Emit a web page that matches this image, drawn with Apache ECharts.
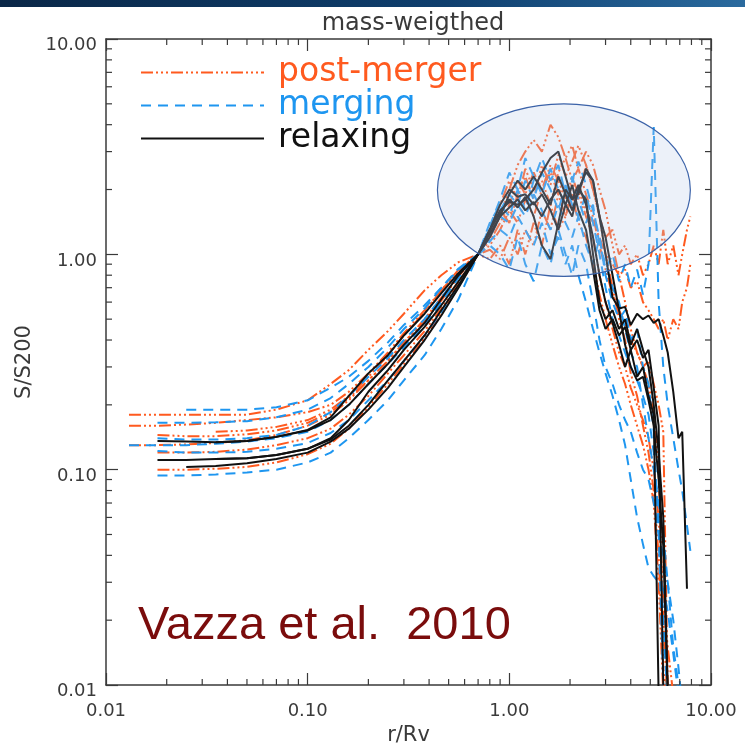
<!DOCTYPE html>
<html>
<head>
<meta charset="utf-8">
<script src="https://cdn.jsdelivr.net/npm/echarts@6/dist/echarts.min.js"></script>
<style>
html,body{margin:0;padding:0;background:#fff;}
#chart{width:745px;height:744px;}
</style>
</head>
<body>
<div id="chart"></div>
<script>
// ---------------- DATA ----------------
const radii = [0.013, 0.018, 0.025, 0.035, 0.05, 0.07, 0.1, 0.13, 0.16, 0.2, 0.25, 0.3, 0.38, 0.46, 0.56,
  0.7, 0.8, 0.9, 1.0, 1.1, 1.2, 1.32, 1.45, 1.6, 1.75, 1.9, 2.05, 2.2, 2.4, 2.6, 2.8, 3.0, 3.25, 3.5, 3.75,
  4.0, 4.3, 4.6, 4.9, 5.2, 5.5, 5.8, 6.1, 6.5, 6.9, 7.2, 7.6, 7.9];

const xTickLabels = ['0.01', '0.10', '1.00', '10.00'];
const yTickLabels = ['0.01', '0.10', '1.00', '10.00'];
const minorTickValues = [0.02, 0.03, 0.04, 0.05, 0.06, 0.07, 0.08, 0.09,
  0.2, 0.3, 0.4, 0.5, 0.6, 0.7, 0.8, 0.9, 2, 3, 4, 5, 6, 7, 8, 9];

// post-merger (orange, dash-dot-dot-dot)
const postMerger1 = [0.18, 0.18, 0.18, 0.18, 0.18, 0.19, 0.21, 0.25, 0.29, 0.36, 0.44, 0.53, 0.68, 0.8, 0.92,
  1.0, 1.2, 1.5, 2.0, 2.6, 3.0, 3.4, 3.0, 4.0, 3.5, 2.8, 3.2, 2.5, 3.0, 2.6, 2.0, 1.6, 1.1, 0.8, 0.6,
  0.45, 0.35, 0.3, 0.25, 0.18, 0.1, 0.02, 0.008, null, null, null, null, null];
const postMerger2 = [0.16, 0.16, 0.162, 0.165, 0.17, 0.175, 0.185, 0.2, 0.23, 0.28, 0.35, 0.43, 0.55, 0.68, 0.84,
  1.0, 1.05, 0.95, 1.2, 1.0, 1.3, 1.1, 1.6, 1.3, 1.9, 1.5, 2.2, 1.8, 2.6, 2.0, 1.5, 1.2, 1.3, 1.0, 1.1,
  0.9, 1.0, 0.8, 0.9, 1.1, 0.9, 1.3, 0.9, 1.1, 0.8, 1.0, 1.3, 1.5];
const postMerger3 = [0.13, 0.13, 0.131, 0.133, 0.137, 0.145, 0.16, 0.18, 0.21, 0.26, 0.32, 0.39, 0.5, 0.63, 0.8,
  1.0, 1.25, 1.6, 1.4, 1.9, 2.3, 1.8, 2.6, 2.1, 2.9, 2.3, 2.7, 3.2, 2.6, 2.0, 1.5, 1.0, 0.7, 0.5, 0.4,
  0.28, 0.22, 0.16, 0.12, 0.08, 0.04, 0.012, 0.007, null, null, null, null, null];
const postMerger4 = [null, 0.12, 0.12, 0.121, 0.124, 0.13, 0.14, 0.155, 0.18, 0.22, 0.28, 0.34, 0.44, 0.56, 0.74,
  1.0, 0.95, 1.1, 0.9, 1.3, 1.0, 1.4, 1.1, 1.7, 1.3, 1.5, 1.9, 1.4, 1.2, 0.9, 0.65, 0.5, 0.38, 0.3, 0.25,
  0.2, 0.16, 0.13, 0.1, 0.07, 0.03, 0.009, null, null, null, null, null, null];
const postMerger5 = [null, 0.1, 0.1, 0.101, 0.103, 0.108, 0.118, 0.132, 0.155, 0.195, 0.25, 0.31, 0.41, 0.53, 0.71,
  1.0, 1.3, 1.7, 2.2, 1.8, 2.5, 2.0, 2.2, 1.7, 2.4, 2.8, 2.2, 2.5, 1.9, 1.5, 1.1, 0.85, 0.65, 0.55, 0.48,
  0.4, 0.35, 0.3, 0.32, 0.25, 0.2, 0.15, 0.01, null, null, null, null, null];
const postMerger6 = [null, null, null, 0.15, 0.152, 0.158, 0.17, 0.19, 0.22, 0.27, 0.34, 0.42, 0.54, 0.68, 0.85,
  1.0, 1.1, 1.3, 1.6, 1.4, 1.8, 1.5, 2.0, 2.4, 1.9, 2.1, 1.6, 2.0, 1.6, 1.4, 1.2, 1.0, 0.9, 0.8, 0.85,
  0.7, 0.75, 0.6, 0.55, 0.5, 0.45, 0.5, 0.4, 0.5, 0.45, 0.6, 0.7, 0.9];
const postMerger7 = [null, 0.145, 0.143, 0.143, 0.146, 0.152, 0.165, 0.185, 0.215, 0.26, 0.32, 0.39, 0.49, 0.61, 0.79,
  1.0, 1.15, 1.4, 1.7, 2.2, 1.9, 2.4, 2.0, 2.6, 2.2, 1.8, 2.3, 1.9, 1.5, 1.2, 0.8, 0.6, 0.45, 0.35, 0.3,
  0.24, 0.2, 0.17, 0.14, 0.1, 0.06, 0.025, 0.015, 0.009, null, null, null, null];

// merging (blue, dashed)
const merging1 = [0.13, 0.13, 0.13, 0.132, 0.135, 0.14, 0.15, 0.17, 0.2, 0.25, 0.31, 0.37, 0.47, 0.6, 0.78,
  1.0, 1.3, 1.6, 1.9, 1.7, 2.2, 1.8, 2.4, 2.0, 1.6, 2.1, 1.7, 1.5, 1.9, 1.4, 1.0, 0.7, 0.5, 0.42, 0.35,
  0.3, 0.26, 0.22, 0.18, 0.12, 0.06, 0.02, 0.008, null, null, null, null, null];
const merging2 = [null, null, 0.19, 0.19, 0.19, 0.195, 0.21, 0.24, 0.27, 0.32, 0.39, 0.47, 0.58, 0.7, 0.85,
  1.0, 1.2, 1.5, 1.4, 1.7, 1.5, 1.9, 1.6, 1.3, 1.7, 1.4, 1.2, 1.5, 1.1, 0.9, 1.2, 0.85, 1.0, 0.75, 0.9,
  0.7, 0.85, 0.65, 0.9, 3.9, 0.6, 0.3, 0.2, 0.14, 0.1, 0.08, 0.055, 0.042];
const merging3 = [null, 0.094, 0.094, 0.095, 0.097, 0.1, 0.108, 0.12, 0.14, 0.17, 0.21, 0.26, 0.34, 0.45, 0.62,
  1.0, 1.15, 1.3, 1.2, 1.5, 1.3, 1.1, 1.4, 1.0, 1.2, 0.9, 1.1, 0.8, 0.6, 0.45, 0.35, 0.28, 0.22, 0.17, 0.13,
  0.09, 0.06, 0.045, 0.035, 0.032, 0.03, 0.028, 0.022, 0.014, 0.009, null, null, null];
const merging4 = [null, 0.14, 0.138, 0.138, 0.14, 0.145, 0.16, 0.185, 0.22, 0.27, 0.33, 0.4, 0.5, 0.63, 0.8,
  1.0, 1.35, 1.8, 2.4, 2.0, 2.8, 2.3, 1.9, 2.5, 2.0, 1.7, 2.2, 2.7, 2.1, 1.6, 1.2, 0.8, 0.6, 0.5, 0.55,
  0.4, 0.45, 0.3, 0.25, 0.15, 0.05, 0.01, null, null, null, null, null, null];
const merging5 = [null, 0.122, 0.12, 0.12, 0.121, 0.125, 0.133, 0.148, 0.17, 0.21, 0.26, 0.32, 0.42, 0.54, 0.71,
  1.0, 1.1, 1.0, 0.85, 1.2, 0.9, 0.75, 1.1, 0.9, 1.3, 1.0, 0.8, 1.1, 0.9, 0.6, 0.4, 0.3, 0.25, 0.2, 0.17,
  0.15, 0.12, 0.1, 0.09, 0.07, 0.05, 0.04, 0.03, 0.02, 0.012, 0.008, null, null];
const merging6 = [null, 0.165, 0.165, 0.166, 0.168, 0.175, 0.19, 0.215, 0.25, 0.3, 0.37, 0.45, 0.56, 0.7, 0.86,
  1.0, 1.4, 1.7, 1.5, 2.0, 1.6, 2.2, 2.8, 2.2, 2.6, 1.9, 2.3, 1.8, 1.4, 1.7, 1.1, 0.9, 0.7, 0.6, 0.45,
  0.35, 0.3, 0.2, 0.14, 0.1, 0.07, 0.05, 0.03, 0.015, 0.01, null, null, null];

// relaxing (black, solid)
const relaxing1 = [null, 0.136, 0.135, 0.134, 0.136, 0.142, 0.153, 0.175, 0.22, 0.28, 0.34, 0.42, 0.53, 0.66, 0.82,
  1.0, 1.2, 1.5, 1.9, 2.2, 2.0, 2.3, 2.0, 1.7, 2.3, 1.9, 1.6, 2.0, 2.4, 2.2, 1.5, 1.0, 0.63, 0.56, 0.57,
  0.47, 0.53, 0.5, 0.52, 0.48, 0.5, 0.42, 0.35, 0.23, 0.14, 0.15, 0.028, null];
const relaxing2 = [null, 0.111, 0.111, 0.112, 0.113, 0.117, 0.125, 0.14, 0.17, 0.23, 0.29, 0.36, 0.46, 0.58, 0.75,
  1.0, 1.3, 1.6, 1.75, 1.7, 1.8, 2.0, 2.4, 2.8, 3.0, 2.3, 1.8, 2.1, 1.7, 1.2, 0.8, 0.6, 0.48, 0.38, 0.3,
  0.36, 0.27, 0.3, 0.22, 0.18, 0.009, null, null, null, null, null, null, null];
const relaxing3 = [null, null, 0.103, 0.104, 0.107, 0.112, 0.12, 0.135, 0.155, 0.19, 0.24, 0.3, 0.4, 0.52, 0.7,
  1.0, 1.3, 1.55, 1.8, 1.65, 1.85, 1.5, 1.1, 0.95, 1.4, 2.0, 1.8, 1.9, 2.5, 2.2, 1.5, 1.2, 0.8, 0.55, 0.38,
  0.3, 0.26, 0.27, 0.21, 0.16, 0.09, 0.044, 0.009, null, null, null, null, null];
const relaxing4 = [null, null, null, 0.134, 0.136, 0.142, 0.152, 0.17, 0.2, 0.25, 0.31, 0.38, 0.48, 0.62, 0.8,
  1.0, 1.25, 1.5, 1.65, 1.8, 1.6, 1.75, 1.5, 1.8, 2.0, 1.7, 2.1, 1.6, 1.3, 0.85, 0.55, 0.45, 0.5, 0.42, 0.46,
  0.36, 0.4, 0.33, 0.36, 0.24, 0.16, 0.01, null, null, null, null, null, null];
const relaxing5 = [null, null, null, 0.112, 0.113, 0.117, 0.125, 0.138, 0.16, 0.2, 0.26, 0.32, 0.42, 0.55, 0.72,
  1.0, 1.3, 1.7, 2.0, 1.85, 1.9, 1.7, 1.9, 1.6, 1.3, 1.7, 1.5, 2.0, 1.8, 1.0, 0.6, 0.5, 0.55, 0.45, 0.5,
  0.38, 0.45, 0.36, 0.3, 0.2, 0.12, 0.06, 0.01, null, null, null, null, null];

// ---------------- CHART ----------------
const FONT = 'DejaVu Sans';
const AXIS_COLOR = '#3a3a3a';
const TEXT_COLOR = '#3a3a3a';
const groups = [
  { name: 'post-merger', color: '#ff5a1f', dash: [12, 3, 2, 3, 2, 3, 2, 3],
    lines: [postMerger1, postMerger2, postMerger3, postMerger4, postMerger5, postMerger6, postMerger7] },
  { name: 'merging', color: '#1e96f0', dash: [10, 7],
    lines: [merging1, merging2, merging3, merging4, merging5, merging6] },
  { name: 'relaxing', color: '#111111', dash: 'solid',
    lines: [relaxing1, relaxing2, relaxing3, relaxing4, relaxing5] }
];

function toPairs(values) {
  const out = [];
  values.forEach((s, i) => { if (s != null) out.push([radii[i], s]); });
  return out;
}

const series = [];
groups.forEach((g, gi) => {
  g.lines.forEach(vals => {
    series.push({
      name: g.name, type: 'line', data: toPairs(vals), symbol: 'none', showSymbol: false,
      xAxisIndex: 0, yAxisIndex: 0, z: 2 + gi, clip: true, animation: false,
      lineStyle: { color: g.color, width: 2, type: g.dash }, itemStyle: { color: g.color }
    });
  });
});

const tickStyle = { stroke: AXIS_COLOR, lineWidth: 1.2 };
series.push({
  type: 'custom', xAxisIndex: 0, yAxisIndex: 0, silent: true, clip: false, z: 10, animation: false,
  data: minorTickValues.map(v => [v, 1]),
  renderItem: (params, api) => {
    const x = api.coord([api.value(0), 1])[0];
    const cs = params.coordSys;
    return { type: 'group', children: [
      { type: 'line', shape: { x1: x, y1: cs.y + cs.height, x2: x, y2: cs.y + cs.height - 6 }, style: tickStyle },
      { type: 'line', shape: { x1: x, y1: cs.y, x2: x, y2: cs.y + 6 }, style: tickStyle }
    ]};
  }
});
series.push({
  type: 'custom', xAxisIndex: 0, yAxisIndex: 0, silent: true, clip: false, z: 10, animation: false,
  data: minorTickValues.map(v => [1, v]),
  renderItem: (params, api) => {
    const y = api.coord([1, api.value(1)])[1];
    const cs = params.coordSys;
    return { type: 'group', children: [
      { type: 'line', shape: { x1: cs.x, y1: y, x2: cs.x + 6, y2: y }, style: tickStyle },
      { type: 'line', shape: { x1: cs.x + cs.width, y1: y, x2: cs.x + cs.width - 6, y2: y }, style: tickStyle }
    ]};
  }
});

const axisCommon = {
  type: 'log', logBase: 10, min: 0.01, max: 10,
  axisLine: { show: true, onZero: false, lineStyle: { color: AXIS_COLOR, width: 1.5 } },
  axisTick: { show: true, inside: true, length: 12, lineStyle: { color: AXIS_COLOR, width: 1.2 } },
  splitLine: { show: false }, minorTick: { show: false }, minorSplitLine: { show: false }
};
const labelFor = (arr) => (v) => arr[Math.round(Math.log10(v)) + 2] || '';

const chart = echarts.init(document.getElementById('chart'), null, { renderer: 'canvas' });
chart.setOption({
  backgroundColor: '#ffffff',
  animation: false,
  title: {
    text: 'mass-weigthed', left: 408, top: 7, textAlign: 'center',
    textStyle: { fontFamily: FONT, fontSize: 24, fontWeight: 'normal', color: TEXT_COLOR }
  },
  grid: { left: 106, right: 34, top: 39, bottom: 59, containLabel: false, outerBoundsMode: 'none' },
  legend: {
    orient: 'vertical', left: 140, top: 56, padding: 0, itemGap: 0,
    itemWidth: 123, itemHeight: 3, selectedMode: false,
    itemStyle: { color: 'rgba(0,0,0,0)', borderColor: 'rgba(0,0,0,0)', borderWidth: 0 },
    textStyle: { fontFamily: FONT, fontSize: 33, lineHeight: 12, padding: [0, 0, 20, 9] },
    data: groups.map(g => ({ name: g.name, textStyle: { color: g.color } }))
  },
  xAxis: [
    Object.assign({}, axisCommon, {
      position: 'bottom',
      axisLabel: { formatter: labelFor(xTickLabels), margin: 17, fontFamily: FONT, fontSize: 18, color: TEXT_COLOR },
      name: 'r/Rv', nameLocation: 'middle', nameGap: 39,
      nameTextStyle: { fontFamily: FONT, fontSize: 21, color: TEXT_COLOR }
    }),
    Object.assign({}, axisCommon, { position: 'top', axisLabel: { show: false } })
  ],
  yAxis: [
    Object.assign({}, axisCommon, {
      position: 'left',
      axisLabel: { formatter: labelFor(yTickLabels), margin: 9, fontFamily: FONT, fontSize: 18, color: TEXT_COLOR,
        verticalAlign: 'top', lineHeight: 13 },
      name: 'S/S200', nameLocation: 'middle', nameGap: 70, nameRotate: 90,
      nameTextStyle: { fontFamily: FONT, fontSize: 21, color: TEXT_COLOR }
    }),
    Object.assign({}, axisCommon, { position: 'right', axisLabel: { show: false } })
  ],
  series: series
});

// annotation ellipse (in data coordinates), header bar, citation
const ellipseBox = { rMin: 0.44, rMax: 7.9, sMin: 0.79, sMax: 5.0 };
const p1 = chart.convertToPixel({ xAxisIndex: 0, yAxisIndex: 0 }, [ellipseBox.rMin, ellipseBox.sMax]);
const p2 = chart.convertToPixel({ xAxisIndex: 0, yAxisIndex: 0 }, [ellipseBox.rMax, ellipseBox.sMin]);
chart.setOption({
  graphic: [
    { type: 'rect', id: 'header', left: 0, top: 0, z: 20, silent: true,
      shape: { width: 745, height: 7 },
      style: { fill: { type: 'linear', x: 0, y: 0, x2: 1, y2: 0,
        colorStops: [{ offset: 0, color: '#0a2747' }, { offset: 0.6, color: '#0f3f6e' }, { offset: 1, color: '#2a6a9e' }] } } },
    { type: 'ellipse', id: 'focus', z: 20, silent: true,
      shape: { cx: (p1[0] + p2[0]) / 2, cy: (p1[1] + p2[1]) / 2, rx: Math.abs(p2[0] - p1[0]) / 2, ry: Math.abs(p2[1] - p1[1]) / 2 },
      style: { fill: 'rgba(185,205,232,0.28)', stroke: '#3b62a8', lineWidth: 1.2 } },
    { type: 'text', id: 'cite', z: 20, silent: true, x: 138, y: 626,
      style: { text: 'Vazza et al.  2010', fill: '#7a0c0c', font: '47px "Liberation Sans", Arial, sans-serif',
        textAlign: 'left', textVerticalAlign: 'middle' } }
  ]
});
</script>
</body>
</html>
